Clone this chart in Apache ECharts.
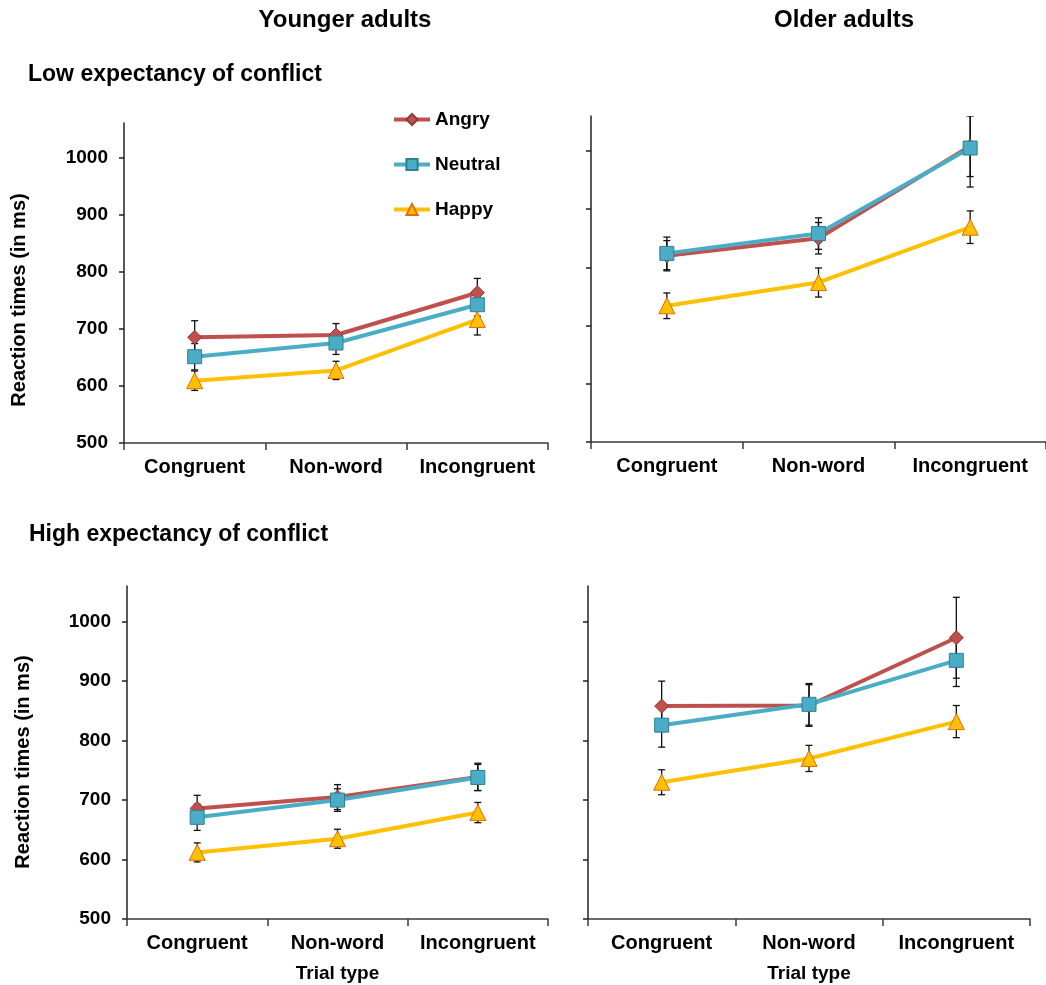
<!DOCTYPE html>
<html><head><meta charset="utf-8">
<script src="https://cdn.jsdelivr.net/npm/echarts@6/dist/echarts.min.js"></script>
<style>html,body{margin:0;padding:0;background:#fff}#c{width:1046px;height:985px}</style>
</head><body><div id="c"></div>
<script>
// ---------- data ----------
const categories = ['Congruent', 'Non-word', 'Incongruent'];
const seriesNames = ['Angry', 'Neutral', 'Happy'];
const yTicks = [500, 600, 700, 800, 900, 1000];
const yMin = 500, yMax = 1060;

// Younger adults, low expectancy of conflict
const youngLowAngry = [685, 689, 763];
const youngLowNeutral = [651, 675, 742];
const youngLowHappy = [609, 627, 716];
const youngLowAngryErr = [29, 20, 25];
const youngLowNeutralErr = [23, 20, 20];
const youngLowHappyErr = [17, 16, 27];

// Older adults, low expectancy of conflict
const oldLowAngry = [820, 850, 1008];
const oldLowNeutral = [824, 858, 1005];
const oldLowHappy = [734, 774, 869];
const oldLowAngryErr = [26, 27, 52];
const oldLowNeutralErr = [28, 27, 67];
const oldLowHappyErr = [22, 25, 28];

// Younger adults, high expectancy of conflict
const youngHighAngry = [686, 705, 739];
const youngHighNeutral = [671, 700, 738];
const youngHighHappy = [612, 635, 679];
const youngHighAngryErr = [22, 21, 23];
const youngHighNeutralErr = [22, 19, 22];
const youngHighHappyErr = [16, 16, 17];

// Older adults, high expectancy of conflict
const oldHighAngry = [858, 859, 973];
const oldHighNeutral = [826, 861, 935];
const oldHighHappy = [730, 770, 832];
const oldHighAngryErr = [42, 35, 68];
const oldHighNeutralErr = [37, 35, 44];
const oldHighHappyErr = [21, 22, 27];

const panels = [
  { means: [youngLowAngry, youngLowNeutral, youngLowHappy], errs: [youngLowAngryErr, youngLowNeutralErr, youngLowHappyErr] },
  { means: [oldLowAngry, oldLowNeutral, oldLowHappy], errs: [oldLowAngryErr, oldLowNeutralErr, oldLowHappyErr] },
  { means: [youngHighAngry, youngHighNeutral, youngHighHappy], errs: [youngHighAngryErr, youngHighNeutralErr, youngHighHappyErr] },
  { means: [oldHighAngry, oldHighNeutral, oldHighHappy], errs: [oldHighAngryErr, oldHighNeutralErr, oldHighHappyErr] }
];

// ---------- styles / layout ----------
const FONT = '"Liberation Sans", Arial, sans-serif';
const styles = [
  { symbol: 'diamond', size: 14, color: '#C0504D', border: '#8C3A37' },
  { symbol: 'rect', size: 14, color: '#4BACC6', border: '#2F7F95' },
  { symbol: 'triangle', size: 16, color: '#FFC000', border: '#E36C09' }
];
const grids = [
  { left: 124, top: 123, width: 424, height: 320 },
  { left: 591, top: 116, width: 458, height: 326 },
  { left: 127, top: 586, width: 421, height: 333 },
  { left: 588, top: 586, width: 442, height: 333 }
];

const xAxes = [], yAxes = [], series = [];
grids.forEach((g, i) => {
  const bottomRow = i >= 2, leftCol = i % 2 === 0;
  xAxes.push({
    type: 'category', gridIndex: i, data: categories, boundaryGap: true,
    axisLine: { show: true, lineStyle: { color: '#3a3a3a', width: 1.5 } },
    axisTick: { show: true, length: 7, lineStyle: { color: '#3a3a3a', width: 1.5 } },
    axisLabel: { interval: 0, color: '#000', fontFamily: FONT, fontWeight: 'bold', fontSize: 20, margin: 14 },
    splitLine: { show: false },
    name: bottomRow ? 'Trial type' : '', nameLocation: 'middle', nameGap: 45,
    nameTextStyle: { color: '#000', fontFamily: FONT, fontWeight: 'bold', fontSize: 19 }
  });
  yAxes.push({
    type: 'value', gridIndex: i, min: yMin, max: yMax,
    axisLine: { show: true, lineStyle: { color: '#222', width: 1.5 } },
    axisTick: { show: true, length: 5, customValues: yTicks, lineStyle: { color: '#222', width: 1.5 } },
    axisLabel: { show: leftCol, customValues: yTicks, formatter: v => String(v), color: '#000', fontFamily: FONT, fontWeight: 'bold', fontSize: 19, margin: 16 },
    splitLine: { show: false }
  });
  const p = panels[i];
  seriesNames.forEach((name, s) => {
    const st = styles[s];
    series.push({
      type: 'custom', name: name + ' error', xAxisIndex: i, yAxisIndex: i, z: 2, clip: true,
      data: p.means[s].map((v, k) => [k, v - p.errs[s][k], v + p.errs[s][k]]),
      renderItem: (params, api) => {
        const lo = api.coord([api.value(0), api.value(1)]);
        const hi = api.coord([api.value(0), api.value(2)]);
        const cap = 3.5;
        const ls = { stroke: '#111', lineWidth: 1.3 };
        return { type: 'group', children: [
          { type: 'line', shape: { x1: lo[0], y1: lo[1], x2: hi[0], y2: hi[1] }, style: ls },
          { type: 'line', shape: { x1: lo[0] - cap, y1: lo[1], x2: lo[0] + cap, y2: lo[1] }, style: ls },
          { type: 'line', shape: { x1: hi[0] - cap, y1: hi[1], x2: hi[0] + cap, y2: hi[1] }, style: ls }
        ]};
      }
    });
    series.push({
      type: 'line', name: name, xAxisIndex: i, yAxisIndex: i, z: 3,
      data: p.means[s], symbol: st.symbol, symbolSize: st.size, showAllSymbol: true,
      lineStyle: { color: st.color, width: 4 },
      itemStyle: { color: st.color, borderColor: st.border, borderWidth: 1 }
    });
  });
});

const yTitle = 'Reaction times (in ms)';
const chart = echarts.init(document.getElementById('c'), null, { renderer: 'canvas' });
chart.setOption({
  animation: false,
  backgroundColor: '#fff',
  grid: grids,
  xAxis: xAxes,
  yAxis: yAxes,
  legend: {
    data: seriesNames, orient: 'vertical', left: 392, top: 110, padding: 0,
    itemWidth: 36, itemHeight: 14, itemGap: 26,
    lineStyle: { width: 4 },
    textStyle: { color: '#000', fontFamily: FONT, fontWeight: 'bold', fontSize: 19 }
  },
  graphic: [
    { type: 'text', x: 345, y: 20, style: { text: 'Younger adults', fill: '#000', font: 'bold 24px ' + FONT, align: 'center', verticalAlign: 'middle' } },
    { type: 'text', x: 844, y: 20, style: { text: 'Older adults', fill: '#000', font: 'bold 24px ' + FONT, align: 'center', verticalAlign: 'middle' } },
    { type: 'text', x: 28, y: 75, style: { text: 'Low expectancy of conflict', fill: '#000', font: 'bold 23px ' + FONT, align: 'left', verticalAlign: 'middle' } },
    { type: 'text', x: 29, y: 535, style: { text: 'High expectancy of conflict', fill: '#000', font: 'bold 23px ' + FONT, align: 'left', verticalAlign: 'middle' } },
    { type: 'text', x: 19, y: 300, rotation: Math.PI / 2, style: { text: yTitle, fill: '#000', font: 'bold 20px ' + FONT, align: 'center', verticalAlign: 'middle' } },
    { type: 'text', x: 23, y: 762, rotation: Math.PI / 2, style: { text: yTitle, fill: '#000', font: 'bold 20px ' + FONT, align: 'center', verticalAlign: 'middle' } }
  ],
  series: series
});
</script></body></html>
